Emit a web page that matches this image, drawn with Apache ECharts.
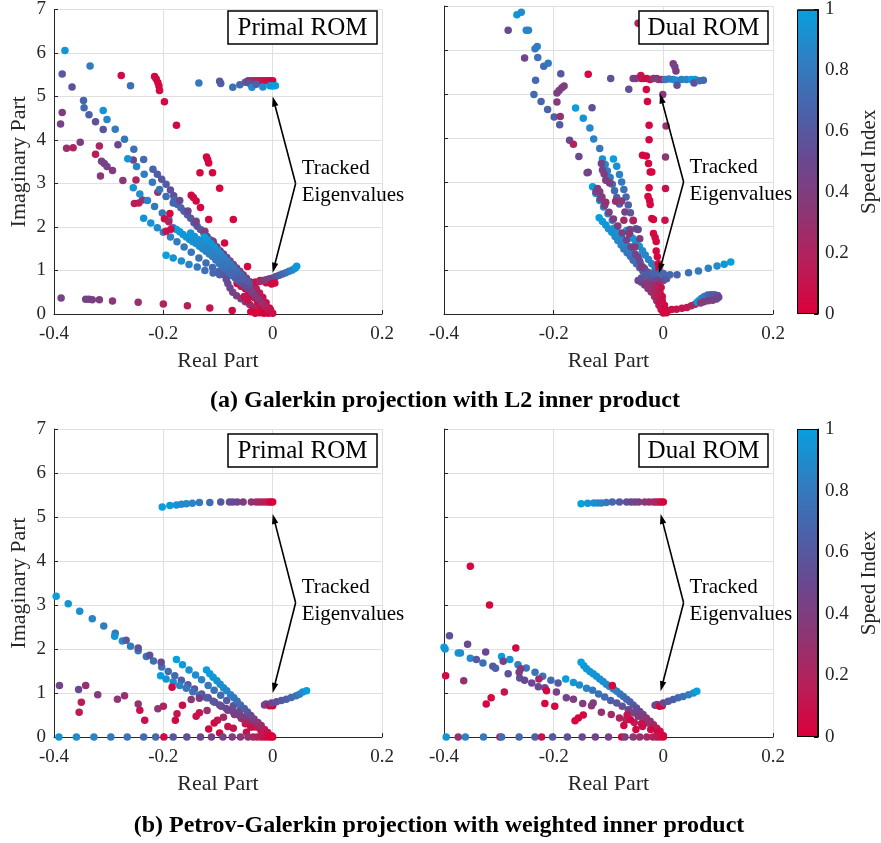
<!DOCTYPE html>
<html>
<head>
<meta charset="utf-8">
<script src="https://cdn.jsdelivr.net/npm/echarts@6.0.0/dist/echarts.min.js"></script>
<style>
  html, body { margin: 0; padding: 0; background: #ffffff; }
  #chart { width: 881px; height: 843px; }
</style>
</head>
<body>
<div id="chart"></div>
<script>
// Eigenvalue loci of the reduced-order models: [real part, imaginary part, speed index]

// (a) Galerkin projection, L2 inner product — primal ROM
const galerkinPrimal = [
  [-0.380, 6.06, 0.95], [-0.385, 5.52, 0.60], [-0.367, 5.22, 0.55], [-0.334, 5.70, 0.82],
  [-0.277, 5.48, 0.05], [-0.260, 5.25, 0.75], [-0.346, 4.91, 0.68], [-0.345, 4.74, 0.70],
  [-0.336, 4.58, 0.66], [-0.324, 4.42, 0.55], [-0.310, 4.24, 0.58], [-0.283, 3.89, 0.50],
  [-0.310, 4.68, 0.95], [-0.303, 4.47, 0.88], [-0.288, 4.25, 0.82], [-0.271, 4.02, 0.78],
  [-0.254, 3.79, 0.76], [-0.236, 3.55, 0.72], [-0.219, 3.33, 0.68], [-0.211, 3.21, 0.62],
  [-0.203, 3.10, 0.60], [-0.195, 2.98, 0.62], [-0.187, 2.85, 0.55], [-0.181, 2.72, 0.55],
  [-0.216, 5.46, 0.05], [-0.213, 5.40, 0.05], [-0.210, 5.32, 0.05], [-0.208, 5.24, 0.05],
  [-0.207, 5.14, 0.03], [-0.198, 4.88, 0.03], [-0.176, 4.34, 0.03],
  [-0.135, 5.31, 0.80], [-0.097, 5.35, 0.60], [-0.095, 5.30, 0.62], [-0.073, 5.21, 0.75],
  [-0.060, 5.27, 0.70], [-0.050, 5.33, 0.60], [-0.045, 5.36, 0.45], [-0.040, 5.36, 0.35],
  [-0.035, 5.36, 0.25], [-0.030, 5.36, 0.20], [-0.025, 5.36, 0.15], [-0.020, 5.36, 0.12],
  [-0.015, 5.36, 0.10], [-0.010, 5.36, 0.08], [-0.005, 5.36, 0.05], [0.000, 5.36, 0.02],
  [-0.042, 5.30, 0.55], [-0.038, 5.21, 0.90], [-0.030, 5.28, 0.65], [-0.018, 5.22, 0.90],
  [-0.005, 5.25, 0.95], [0.000, 5.24, 0.98], [0.005, 5.25, 1.00],
  [-0.385, 4.63, 0.40], [-0.388, 4.37, 0.45], [-0.377, 3.81, 0.28], [-0.365, 3.82, 0.20],
  [-0.352, 3.95, 0.40], [-0.324, 3.67, 0.15], [-0.317, 3.86, 0.20], [-0.315, 3.17, 0.35],
  [-0.313, 3.51, 0.45], [-0.308, 3.46, 0.45], [-0.303, 3.39, 0.45], [-0.293, 3.30, 0.40],
  [-0.274, 3.07, 0.35], [-0.255, 3.54, 0.45], [-0.250, 3.08, 0.20], [-0.253, 2.54, 0.15],
  [-0.245, 2.55, 0.15], [-0.238, 2.62, 0.30], [-0.210, 2.80, 0.30],
  [-0.265, 3.57, 0.95], [-0.255, 2.90, 0.95], [-0.249, 3.39, 0.86], [-0.243, 2.76, 0.90],
  [-0.235, 3.21, 0.84], [-0.229, 2.61, 0.85], [-0.220, 3.03, 0.80], [-0.216, 2.47, 0.80],
  [-0.207, 2.86, 0.78], [-0.202, 2.32, 0.80], [-0.195, 2.70, 0.75], [-0.190, 2.17, 0.78],
  [-0.182, 2.55, 0.72], [-0.182, 1.98, 0.75],
  [-0.180, 2.62, 0.70], [-0.174, 2.52, 0.68], [-0.168, 2.44, 0.70], [-0.162, 2.36, 0.66],
  [-0.156, 2.28, 0.64], [-0.150, 2.20, 0.62], [-0.144, 2.10, 0.60], [-0.138, 2.02, 0.58],
  [-0.132, 1.94, 0.60], [-0.126, 1.86, 0.56], [-0.120, 1.78, 0.55], [-0.114, 1.70, 0.55],
  [-0.108, 1.62, 0.52], [-0.102, 1.54, 0.50], [-0.096, 1.45, 0.50], [-0.090, 1.38, 0.48],
  [-0.084, 1.30, 0.47], [-0.078, 1.22, 0.45], [-0.072, 1.14, 0.44], [-0.066, 1.06, 0.42],
  [-0.060, 0.98, 0.40], [-0.054, 0.90, 0.38], [-0.048, 0.82, 0.35], [-0.042, 0.74, 0.30],
  [-0.036, 0.66, 0.25], [-0.030, 0.58, 0.20], [-0.024, 0.48, 0.15], [-0.018, 0.38, 0.10],
  [-0.012, 0.26, 0.08], [-0.006, 0.14, 0.05],
  [-0.170, 2.61, 0.50], [-0.155, 2.37, 0.50], [-0.140, 2.13, 0.45], [-0.124, 1.90, 0.42],
  [-0.109, 1.67, 0.40], [-0.097, 1.45, 0.42],
  [-0.236, 2.20, 0.95], [-0.223, 2.09, 0.95], [-0.211, 1.98, 0.90], [-0.200, 1.88, 0.86],
  [-0.187, 1.77, 0.85], [-0.175, 1.66, 0.82], [-0.162, 1.54, 0.80], [-0.149, 1.42, 0.78],
  [-0.135, 1.29, 0.75], [-0.122, 1.17, 0.72], [-0.110, 1.07, 0.70], [-0.098, 0.98, 0.68],
  [-0.195, 1.35, 1.00], [-0.182, 1.29, 0.95], [-0.167, 1.22, 0.90], [-0.153, 1.14, 0.85],
  [-0.138, 1.08, 0.80], [-0.124, 1.00, 0.75], [-0.109, 0.94, 0.70], [-0.097, 0.90, 0.66],
  [-0.088, 0.90, 0.60], [-0.085, 0.80, 0.55], [-0.082, 0.70, 0.52], [-0.078, 0.60, 0.50],
  [-0.073, 0.50, 0.45], [-0.066, 0.42, 0.42], [-0.058, 0.35, 0.38], [-0.050, 0.28, 0.33],
  [-0.042, 0.22, 0.28], [-0.034, 0.16, 0.22], [-0.026, 0.10, 0.15], [-0.018, 0.06, 0.10],
  [-0.065, 0.70, 0.05], [-0.058, 0.64, 0.08], [-0.050, 0.58, 0.05], [-0.044, 0.52, 0.10],
  [-0.040, 0.44, 0.05], [-0.034, 0.38, 0.08], [-0.028, 0.30, 0.05], [-0.022, 0.22, 0.03],
  [-0.016, 0.16, 0.05], [-0.010, 0.10, 0.02], [-0.005, 0.04, 0.00], [-0.052, 0.40, 0.12],
  [-0.046, 0.32, 0.10], [-0.023, 0.77, 0.03], [-0.012, 0.72, 0.05], [-0.002, 0.70, 0.05],
  [-0.033, 0.73, 0.05], [-0.040, 0.05, 0.03], [-0.032, 0.02, 0.02], [-0.024, 0.03, 0.02],
  [-0.016, 0.02, 0.00], [-0.008, 0.02, 0.00], [0.000, 0.02, 0.00], [-0.004, 0.10, 0.05],
  [-0.176, 1.94, 1.00], [-0.170, 1.89, 0.98], [-0.164, 1.83, 0.97], [-0.158, 1.77, 0.96],
  [-0.152, 1.71, 0.95], [-0.146, 1.66, 0.93], [-0.140, 1.62, 0.92], [-0.134, 1.56, 0.90],
  [-0.128, 1.50, 0.88], [-0.122, 1.44, 0.86], [-0.116, 1.38, 0.84], [-0.110, 1.32, 0.82],
  [-0.104, 1.24, 0.80], [-0.098, 1.16, 0.78], [-0.092, 1.10, 0.76], [-0.086, 1.02, 0.74],
  [-0.080, 0.95, 0.72], [-0.074, 0.88, 0.70], [-0.068, 0.82, 0.66], [-0.062, 0.76, 0.62],
  [-0.056, 0.70, 0.58], [-0.050, 0.64, 0.54], [-0.044, 0.58, 0.50], [-0.038, 0.50, 0.45],
  [-0.032, 0.42, 0.40], [-0.026, 0.34, 0.35], [-0.020, 0.26, 0.30], [-0.014, 0.18, 0.22],
  [-0.008, 0.10, 0.15], [-0.003, 0.04, 0.08],
  [-0.125, 1.77, 1.00], [-0.119, 1.70, 0.97], [-0.113, 1.62, 0.95], [-0.107, 1.54, 0.93],
  [-0.101, 1.46, 0.90], [-0.095, 1.38, 0.88], [-0.089, 1.30, 0.85], [-0.083, 1.22, 0.83],
  [-0.077, 1.14, 0.80], [-0.071, 1.06, 0.78], [-0.065, 0.98, 0.75], [-0.059, 0.90, 0.72],
  [-0.053, 0.82, 0.68], [-0.047, 0.76, 0.64], [-0.041, 0.70, 0.60],
  [-0.150, 1.86, 0.97], [-0.143, 1.78, 0.95], [-0.137, 1.71, 0.93], [-0.131, 1.64, 0.91],
  [-0.124, 1.56, 0.89], [-0.118, 1.48, 0.87], [-0.111, 1.40, 0.85], [-0.105, 1.33, 0.83],
  [-0.099, 1.25, 0.81], [-0.092, 1.17, 0.79], [-0.086, 1.09, 0.77], [-0.079, 1.01, 0.74],
  [-0.073, 0.93, 0.71], [-0.066, 0.86, 0.68], [-0.060, 0.80, 0.64],
  [-0.121, 3.61, 0.03], [-0.119, 3.55, 0.03], [-0.117, 3.47, 0.03], [-0.110, 3.25, 0.03],
  [-0.133, 3.25, 0.03], [-0.097, 2.89, 0.03], [-0.149, 2.73, 0.05], [-0.145, 2.68, 0.05],
  [-0.140, 2.60, 0.05], [-0.132, 2.45, 0.03], [-0.117, 2.17, 0.03], [-0.072, 2.17, 0.03],
  [-0.088, 1.63, 0.05], [-0.046, 1.09, 0.03], [-0.188, 2.31, 0.05], [-0.198, 2.19, 0.08],
  [-0.195, 1.90, 0.10], [-0.186, 1.95, 0.08], [-0.190, 2.12, 0.20],
  [-0.387, 0.37, 0.45], [-0.342, 0.34, 0.45], [-0.336, 0.34, 0.45], [-0.330, 0.33, 0.42],
  [-0.317, 0.33, 0.40], [-0.293, 0.30, 0.35], [-0.246, 0.27, 0.30], [-0.200, 0.23, 0.20],
  [-0.156, 0.19, 0.15], [-0.115, 0.14, 0.10], [-0.074, 0.08, 0.05],
  [-0.030, 0.73, 0.10], [-0.024, 0.75, 0.20], [-0.018, 0.77, 0.30], [-0.012, 0.79, 0.38],
  [-0.006, 0.81, 0.45], [0.000, 0.83, 0.50], [0.006, 0.86, 0.55], [0.012, 0.89, 0.62],
  [0.018, 0.92, 0.68], [0.024, 0.95, 0.74], [0.030, 0.98, 0.80], [0.036, 1.01, 0.86],
  [0.041, 1.05, 0.92], [0.044, 1.10, 0.98], [-0.002, 0.69, 0.03], [0.004, 0.71, 0.05]
];

// (a) Galerkin projection, L2 inner product — dual ROM
const galerkinDual = [
  [-0.267, 6.80, 0.95], [-0.259, 6.86, 0.90], [-0.283, 6.45, 0.50], [-0.250, 6.45, 0.88],
  [-0.246, 6.45, 0.85], [-0.234, 6.03, 0.80], [-0.230, 6.08, 0.82], [-0.253, 5.82, 0.45],
  [-0.229, 5.83, 0.75], [-0.218, 5.63, 0.72], [-0.210, 5.70, 0.80], [-0.233, 5.31, 0.70],
  [-0.187, 5.46, 0.60], [-0.236, 4.99, 0.70], [-0.223, 4.83, 0.68], [-0.211, 4.65, 0.66],
  [-0.199, 4.48, 0.65], [-0.189, 4.30, 0.62], [-0.171, 3.95, 0.50], [-0.154, 3.58, 0.50],
  [-0.137, 3.22, 0.45],
  [-0.194, 5.02, 0.42], [-0.190, 5.08, 0.42], [-0.185, 5.14, 0.40], [-0.181, 5.18, 0.40],
  [-0.194, 4.82, 0.35], [-0.188, 4.49, 0.30], [-0.164, 3.86, 0.20], [-0.130, 4.69, 0.55],
  [-0.160, 4.68, 1.00], [-0.146, 4.45, 0.95], [-0.134, 4.23, 0.88], [-0.127, 3.98, 0.85],
  [-0.116, 3.76, 0.80], [-0.111, 3.52, 0.95], [-0.106, 3.40, 0.90], [-0.102, 3.25, 0.85],
  [-0.097, 3.10, 0.80], [-0.093, 2.95, 0.75], [-0.089, 2.80, 0.70], [-0.085, 2.65, 0.65],
  [-0.080, 2.50, 0.60],
  [-0.091, 3.52, 1.00], [-0.085, 3.36, 0.92], [-0.080, 3.17, 0.86], [-0.076, 3.00, 0.80],
  [-0.072, 2.83, 0.75], [-0.068, 2.66, 0.70], [-0.064, 2.48, 0.65], [-0.060, 2.30, 0.60],
  [-0.055, 2.12, 0.58], [-0.050, 1.94, 0.55],
  [-0.129, 2.89, 1.00], [-0.123, 2.74, 0.97], [-0.116, 2.58, 0.93], [-0.109, 2.43, 0.90],
  [-0.101, 2.28, 0.86], [-0.093, 2.13, 0.82], [-0.085, 1.98, 0.78], [-0.078, 1.83, 0.74],
  [-0.070, 1.67, 0.70], [-0.063, 1.52, 0.66], [-0.055, 1.37, 0.62], [-0.047, 1.22, 0.58],
  [-0.038, 1.07, 0.55], [-0.028, 0.95, 0.55], [-0.018, 0.84, 0.52],
  [-0.117, 2.19, 1.00], [-0.111, 2.10, 0.98], [-0.105, 2.02, 0.96], [-0.100, 1.94, 0.94],
  [-0.094, 1.86, 0.92], [-0.088, 1.76, 0.90], [-0.083, 1.67, 0.88], [-0.077, 1.57, 0.85],
  [-0.072, 1.48, 0.82], [-0.066, 1.39, 0.79], [-0.060, 1.31, 0.76], [-0.055, 1.22, 0.73],
  [-0.049, 1.14, 0.70], [-0.043, 1.05, 0.68], [-0.037, 0.97, 0.66], [-0.031, 0.88, 0.64],
  [-0.026, 0.80, 0.60],
  [-0.090, 1.95, 0.95], [-0.083, 1.84, 0.93], [-0.076, 1.72, 0.90], [-0.069, 1.60, 0.88],
  [-0.062, 1.48, 0.85], [-0.055, 1.36, 0.82], [-0.048, 1.24, 0.78], [-0.041, 1.12, 0.75],
  [-0.034, 1.01, 0.70], [-0.027, 0.92, 0.65],
  [-0.067, 1.90, 1.00], [-0.061, 1.81, 0.98], [-0.056, 1.72, 0.96], [-0.050, 1.63, 0.94],
  [-0.044, 1.54, 0.92], [-0.038, 1.44, 0.90], [-0.033, 1.34, 0.88], [-0.027, 1.24, 0.85],
  [-0.021, 1.14, 0.82], [-0.015, 1.03, 0.78], [-0.009, 0.92, 0.74],
  [-0.123, 2.78, 0.45], [-0.115, 2.62, 0.45], [-0.107, 2.47, 0.42], [-0.099, 2.31, 0.42],
  [-0.091, 2.16, 0.40], [-0.083, 2.00, 0.40], [-0.075, 1.84, 0.42], [-0.067, 1.68, 0.45],
  [-0.059, 1.52, 0.48], [-0.051, 1.36, 0.50], [-0.043, 1.20, 0.52], [-0.035, 1.04, 0.55],
  [-0.120, 2.85, 0.40], [-0.116, 2.78, 0.40], [-0.112, 2.66, 0.38], [-0.105, 2.54, 0.30],
  [-0.139, 3.21, 0.45], [-0.113, 3.42, 0.45], [-0.111, 3.27, 0.45], [-0.108, 3.18, 0.40],
  [-0.105, 3.04, 0.40], [-0.098, 2.98, 0.40], [-0.087, 2.56, 0.30], [-0.076, 2.57, 0.35],
  [-0.070, 2.32, 0.45], [-0.061, 1.92, 0.45], [-0.046, 1.92, 0.50], [-0.055, 2.13, 0.20],
  [-0.072, 2.13, 0.25], [-0.062, 1.83, 0.35], [-0.043, 1.71, 0.40], [-0.052, 1.52, 0.35],
  [-0.040, 1.07, 0.40], [-0.046, 1.30, 0.45],
  [-0.040, 5.35, 0.10], [-0.031, 5.10, 0.03], [-0.029, 4.83, 0.03], [-0.026, 4.29, 0.03],
  [-0.026, 3.96, 0.03], [-0.038, 3.61, 0.03], [-0.031, 3.59, 0.03], [-0.027, 3.42, 0.03],
  [-0.024, 3.23, 0.03], [-0.021, 3.23, 0.03], [-0.026, 2.87, 0.03], [-0.028, 2.67, 0.03],
  [-0.025, 2.58, 0.03], [-0.024, 2.49, 0.03], [-0.021, 2.17, 0.03], [-0.018, 2.15, 0.03],
  [-0.018, 1.83, 0.03], [-0.015, 1.74, 0.03], [-0.013, 1.65, 0.03], [-0.013, 1.43, 0.03],
  [-0.011, 1.30, 0.03], [-0.009, 1.14, 0.03], [-0.008, 1.03, 0.03],
  [-0.001, 4.99, 0.35], [0.005, 4.27, 0.30], [0.004, 3.57, 0.35], [0.004, 2.85, 0.10],
  [0.003, 2.13, 0.10],
  [-0.137, 5.45, 0.03], [-0.096, 5.35, 0.55], [-0.063, 5.11, 0.55], [-0.055, 5.35, 0.45],
  [-0.050, 5.35, 0.40], [-0.046, 6.61, 0.20], [-0.041, 5.42, 0.10], [-0.036, 5.35, 0.10],
  [-0.030, 5.35, 0.05], [-0.024, 5.33, 0.10], [-0.018, 5.35, 0.35], [-0.012, 5.35, 0.30],
  [-0.009, 5.33, 0.45], [-0.003, 5.33, 0.20], [0.018, 5.69, 0.40], [0.021, 5.62, 0.45],
  [0.023, 5.52, 0.40], [0.018, 5.33, 0.90], [0.024, 5.31, 0.95], [0.033, 5.33, 0.85],
  [0.042, 5.33, 0.85], [0.051, 5.33, 1.00], [0.058, 5.33, 0.95], [0.056, 5.25, 0.55],
  [0.066, 5.30, 0.75], [0.073, 5.31, 0.70], [0.025, 5.20, 0.55], [0.010, 5.34, 0.85],
  [0.003, 5.33, 0.80],
  [-0.046, 0.76, 0.50], [-0.040, 0.72, 0.45], [-0.034, 0.66, 0.40], [-0.028, 0.58, 0.35],
  [-0.022, 0.50, 0.30], [-0.016, 0.40, 0.25], [-0.012, 0.30, 0.20], [-0.008, 0.20, 0.15],
  [-0.004, 0.10, 0.10], [0.000, 0.02, 0.05], [-0.040, 0.82, 0.55], [-0.030, 0.80, 0.60],
  [-0.020, 0.80, 0.55], [-0.010, 0.78, 0.50], [0.000, 0.76, 0.45], [0.006, 0.80, 0.60],
  [-0.030, 0.70, 0.35], [-0.020, 0.66, 0.30], [-0.010, 0.66, 0.20], [-0.004, 0.60, 0.10],
  [-0.014, 0.56, 0.20], [-0.006, 0.48, 0.10], [-0.002, 0.40, 0.05], [-0.010, 0.44, 0.15],
  [-0.002, 0.30, 0.05], [0.002, 0.20, 0.03], [0.003, 0.10, 0.02], [0.006, 0.03, 0.02],
  [-0.006, 0.25, 0.10],
  [0.006, 0.08, 0.05], [0.015, 0.10, 0.08], [0.024, 0.11, 0.10], [0.034, 0.13, 0.12],
  [0.043, 0.15, 0.15], [0.051, 0.19, 0.20], [0.058, 0.22, 0.25],
  [0.062, 0.27, 1.00], [0.066, 0.31, 0.95], [0.070, 0.36, 0.88], [0.075, 0.40, 0.80],
  [0.081, 0.43, 0.72], [0.087, 0.44, 0.65], [0.093, 0.44, 0.60], [0.099, 0.42, 0.55],
  [0.101, 0.38, 0.50], [0.097, 0.34, 0.48], [0.090, 0.31, 0.45], [0.082, 0.30, 0.42],
  [0.074, 0.28, 0.40], [0.068, 0.25, 0.35],
  [0.000, 0.92, 0.70], [0.012, 0.89, 0.70], [0.025, 0.89, 0.68], [0.046, 0.94, 0.75],
  [0.064, 0.98, 0.80], [0.082, 1.04, 0.85], [0.098, 1.09, 0.90], [0.111, 1.13, 0.95],
  [0.123, 1.18, 1.00], [-0.006, 0.93, 0.70], [-0.018, 0.92, 0.68]
];

// (b) Petrov-Galerkin projection, weighted inner product — primal ROM
const petrovPrimal = [
  [-0.202, 5.23, 1.00], [-0.188, 5.26, 0.97], [-0.176, 5.27, 0.93], [-0.167, 5.29, 0.90],
  [-0.158, 5.30, 0.88], [-0.147, 5.31, 0.85], [-0.134, 5.33, 0.80], [-0.115, 5.33, 0.72],
  [-0.095, 5.34, 0.62], [-0.079, 5.34, 0.55], [-0.073, 5.34, 0.52], [-0.065, 5.34, 0.48],
  [-0.054, 5.34, 0.42], [-0.039, 5.34, 0.33], [-0.030, 5.34, 0.28], [-0.024, 5.34, 0.25],
  [-0.018, 5.34, 0.20], [-0.012, 5.34, 0.15], [-0.007, 5.34, 0.10], [-0.003, 5.34, 0.05],
  [0.000, 5.34, 0.00],
  [-0.015, 0.73, 0.45], [-0.012, 0.75, 0.48], [-0.006, 0.71, 0.08], [0.000, 0.71, 0.00],
  [-0.002, 0.77, 0.50], [0.007, 0.80, 0.55], [0.016, 0.83, 0.60], [0.025, 0.86, 0.65],
  [0.034, 0.90, 0.70], [0.043, 0.94, 0.75], [0.049, 0.97, 0.82], [0.055, 1.02, 0.90],
  [0.062, 1.05, 1.00],
  [-0.396, 3.20, 1.00], [-0.374, 3.03, 0.95], [-0.353, 2.86, 0.90], [-0.330, 2.69, 0.86],
  [-0.309, 2.52, 0.82], [-0.288, 2.36, 0.78], [-0.289, 2.29, 0.95], [-0.275, 2.18, 0.90],
  [-0.260, 2.06, 0.82], [-0.246, 1.96, 0.80], [-0.231, 1.83, 0.78], [-0.218, 1.73, 0.76],
  [-0.203, 1.59, 0.75], [-0.268, 2.20, 0.60], [-0.246, 2.02, 0.55], [-0.225, 1.86, 0.55],
  [-0.204, 1.70, 0.50],
  [-0.191, 1.49, 0.72], [-0.179, 1.39, 0.70], [-0.167, 1.29, 0.66], [-0.155, 1.19, 0.62],
  [-0.143, 1.09, 0.58], [-0.130, 0.98, 0.55], [-0.118, 0.89, 0.50], [-0.106, 0.79, 0.47],
  [-0.094, 0.70, 0.44], [-0.082, 0.61, 0.40], [-0.070, 0.51, 0.35], [-0.057, 0.42, 0.30],
  [-0.045, 0.32, 0.25], [-0.033, 0.23, 0.18], [-0.021, 0.13, 0.10], [-0.009, 0.04, 0.05],
  [-0.205, 1.39, 1.00], [-0.195, 1.32, 0.95], [-0.182, 1.25, 0.90], [-0.170, 1.17, 0.85],
  [-0.158, 1.11, 0.80], [-0.146, 1.03, 0.75], [-0.134, 0.95, 0.70], [-0.121, 0.89, 0.65],
  [-0.109, 0.81, 0.60], [-0.097, 0.73, 0.55], [-0.085, 0.65, 0.50], [-0.072, 0.57, 0.45],
  [-0.060, 0.48, 0.40], [-0.048, 0.39, 0.30], [-0.036, 0.30, 0.20], [-0.024, 0.20, 0.12],
  [-0.012, 0.11, 0.05],
  [-0.176, 1.76, 1.00], [-0.165, 1.64, 0.97], [-0.153, 1.52, 0.93], [-0.141, 1.41, 0.90],
  [-0.130, 1.30, 0.85], [-0.118, 1.17, 0.80], [-0.107, 1.06, 0.75], [-0.095, 0.95, 0.70],
  [-0.084, 0.83, 0.62], [-0.072, 0.71, 0.55], [-0.060, 0.60, 0.48], [-0.049, 0.48, 0.40],
  [-0.037, 0.36, 0.30], [-0.026, 0.25, 0.20], [-0.014, 0.13, 0.10], [-0.002, 0.02, 0.03],
  [-0.121, 1.52, 1.00], [-0.115, 1.44, 1.00], [-0.109, 1.36, 0.97], [-0.102, 1.28, 0.95],
  [-0.096, 1.20, 0.92], [-0.090, 1.12, 0.90], [-0.084, 1.05, 0.87], [-0.077, 0.96, 0.84],
  [-0.071, 0.89, 0.80], [-0.065, 0.81, 0.76], [-0.059, 0.73, 0.72], [-0.052, 0.65, 0.66],
  [-0.046, 0.57, 0.60], [-0.040, 0.49, 0.52], [-0.034, 0.41, 0.44], [-0.027, 0.33, 0.35],
  [-0.021, 0.26, 0.25], [-0.015, 0.17, 0.17], [-0.009, 0.10, 0.08], [-0.002, 0.02, 0.02],
  [-0.390, 1.17, 0.45], [-0.355, 1.08, 0.50], [-0.342, 1.17, 0.30], [-0.350, 0.79, 0.15],
  [-0.354, 0.56, 0.15], [-0.320, 0.96, 0.40], [-0.284, 0.86, 0.35], [-0.271, 0.94, 0.30],
  [-0.246, 0.75, 0.35], [-0.243, 0.61, 0.10], [-0.234, 0.38, 0.10], [-0.210, 0.64, 0.35],
  [-0.200, 0.70, 0.20], [-0.184, 1.13, 0.05], [-0.165, 0.72, 0.05], [-0.175, 0.53, 0.10],
  [-0.178, 0.38, 0.05], [-0.140, 0.47, 0.10], [-0.134, 0.55, 0.10], [-0.117, 0.18, 0.05],
  [-0.107, 0.32, 0.05], [-0.101, 0.38, 0.10], [-0.082, 0.24, 0.10], [-0.097, 0.09, 0.05],
  [-0.072, 0.20, 0.10], [-0.048, 0.11, 0.10], [-0.050, 0.30, 0.15], [-0.040, 0.22, 0.10],
  [-0.149, 0.85, 0.35], [-0.134, 0.88, 0.40], [-0.120, 0.60, 0.30], [-0.090, 0.45, 0.25],
  [-0.391, 0.00, 0.95], [-0.359, 0.00, 0.90], [-0.327, 0.00, 0.85], [-0.296, 0.00, 0.80],
  [-0.266, 0.00, 0.78], [-0.236, 0.00, 0.72], [-0.214, 0.00, 0.70], [-0.199, 0.00, 0.05],
  [-0.182, 0.00, 0.60], [-0.157, 0.00, 0.55], [-0.132, 0.00, 0.50], [-0.112, 0.00, 0.45],
  [-0.091, 0.00, 0.45], [-0.074, 0.00, 0.40], [-0.059, 0.00, 0.35], [-0.045, 0.00, 0.30],
  [-0.036, 0.00, 0.25], [-0.029, 0.00, 0.20], [-0.022, 0.00, 0.15], [-0.016, 0.00, 0.10],
  [-0.010, 0.00, 0.05], [-0.004, 0.00, 0.00], [0.000, 0.00, 0.00]
];

// (b) Petrov-Galerkin projection, weighted inner product — dual ROM
const petrovDual = [
  [-0.150, 5.30, 1.00], [-0.138, 5.31, 0.95], [-0.127, 5.32, 0.92], [-0.120, 5.32, 0.90],
  [-0.113, 5.32, 0.85], [-0.104, 5.33, 0.80], [-0.093, 5.34, 0.70], [-0.080, 5.34, 0.62],
  [-0.067, 5.34, 0.55], [-0.059, 5.34, 0.50], [-0.052, 5.34, 0.48], [-0.045, 5.34, 0.42],
  [-0.034, 5.34, 0.35], [-0.026, 5.34, 0.30], [-0.018, 5.34, 0.25], [-0.013, 5.34, 0.20],
  [-0.008, 5.34, 0.15], [-0.004, 5.34, 0.10], [0.000, 5.34, 0.00],
  [-0.015, 0.72, 0.45], [-0.011, 0.74, 0.50], [-0.007, 0.70, 0.05], [-0.002, 0.71, 0.02],
  [0.000, 0.77, 0.50], [0.009, 0.81, 0.60], [0.018, 0.85, 0.65], [0.027, 0.89, 0.70],
  [0.036, 0.92, 0.75], [0.046, 0.96, 0.82], [0.055, 1.00, 0.90], [0.061, 1.04, 1.00],
  [-0.150, 1.70, 1.00], [-0.145, 1.62, 1.00], [-0.140, 1.55, 0.98], [-0.134, 1.49, 0.97],
  [-0.128, 1.44, 0.96], [-0.122, 1.38, 0.95], [-0.116, 1.32, 0.94], [-0.110, 1.26, 0.92],
  [-0.104, 1.20, 0.90], [-0.098, 1.15, 0.88], [-0.091, 1.09, 0.85], [-0.085, 1.04, 0.82],
  [-0.079, 0.98, 0.80], [-0.073, 0.92, 0.76], [-0.067, 0.86, 0.72], [-0.061, 0.80, 0.68],
  [-0.055, 0.73, 0.62], [-0.049, 0.66, 0.56], [-0.043, 0.58, 0.50], [-0.037, 0.51, 0.44],
  [-0.031, 0.43, 0.38], [-0.024, 0.36, 0.30], [-0.018, 0.28, 0.22], [-0.012, 0.20, 0.15],
  [-0.006, 0.13, 0.08], [0.000, 0.03, 0.02],
  [-0.400, 2.04, 1.00], [-0.398, 2.00, 0.95], [-0.374, 1.91, 0.95], [-0.370, 1.91, 0.90],
  [-0.352, 1.79, 0.90], [-0.341, 1.76, 0.60], [-0.329, 1.68, 0.75], [-0.311, 1.61, 0.60],
  [-0.306, 1.56, 0.65],
  [-0.295, 1.83, 1.00], [-0.280, 1.76, 0.95], [-0.265, 1.64, 0.85], [-0.250, 1.57, 0.80],
  [-0.234, 1.47, 0.78], [-0.220, 1.38, 0.75], [-0.205, 1.29, 0.72], [-0.192, 1.23, 0.60],
  [-0.178, 1.32, 1.00], [-0.164, 1.24, 0.95], [-0.153, 1.18, 0.90], [-0.140, 1.11, 0.85],
  [-0.129, 1.06, 0.80], [-0.118, 0.98, 0.75], [-0.107, 0.91, 0.70], [-0.096, 0.83, 0.65],
  [-0.085, 0.77, 0.60], [-0.075, 0.70, 0.55], [-0.064, 0.62, 0.50], [-0.055, 0.55, 0.45],
  [-0.046, 0.47, 0.40], [-0.037, 0.39, 0.35], [-0.028, 0.32, 0.30], [-0.018, 0.24, 0.20],
  [-0.009, 0.13, 0.10], [-0.002, 0.02, 0.02],
  [-0.283, 1.44, 0.55], [-0.262, 1.34, 0.55], [-0.253, 1.29, 0.50], [-0.240, 1.23, 0.50],
  [-0.228, 1.14, 0.50], [-0.216, 1.12, 0.45], [-0.195, 1.02, 0.45], [-0.177, 0.89, 0.45],
  [-0.164, 0.86, 0.40], [-0.147, 0.76, 0.40], [-0.131, 0.71, 0.35], [-0.113, 0.56, 0.30],
  [-0.095, 0.51, 0.25], [-0.080, 0.43, 0.20], [-0.068, 0.39, 0.20], [-0.053, 0.33, 0.15],
  [-0.038, 0.24, 0.10], [-0.023, 0.17, 0.05], [-0.011, 0.09, 0.02],
  [-0.390, 2.30, 0.55], [-0.357, 2.11, 0.50], [-0.324, 1.93, 0.50], [-0.292, 1.72, 0.45],
  [-0.352, 3.88, 0.03], [-0.317, 3.00, 0.03], [-0.269, 2.02, 0.05], [-0.397, 1.39, 0.03],
  [-0.364, 1.28, 0.30], [-0.323, 0.75, 0.03], [-0.314, 0.89, 0.03], [-0.290, 1.02, 0.10],
  [-0.260, 1.55, 0.35], [-0.263, 1.47, 0.40], [-0.227, 1.32, 0.25], [-0.213, 1.05, 0.03],
  [-0.216, 0.76, 0.03], [-0.198, 0.70, 0.03], [-0.093, 1.17, 0.03], [-0.161, 0.37, 0.03],
  [-0.155, 0.43, 0.03], [-0.146, 0.50, 0.05], [-0.128, 0.77, 0.40], [-0.072, 0.26, 0.05],
  [-0.060, 0.39, 0.05], [-0.050, 0.17, 0.05], [-0.066, 0.50, 0.10], [-0.040, 0.30, 0.08],
  [-0.396, 0.00, 0.95], [-0.374, 0.00, 0.30], [-0.361, 0.00, 0.85], [-0.328, 0.00, 0.80],
  [-0.298, 0.00, 0.15], [-0.295, 0.00, 0.75], [-0.263, 0.00, 0.70], [-0.234, 0.00, 0.65],
  [-0.222, 0.00, 0.10], [-0.202, 0.00, 0.60], [-0.175, 0.00, 0.55], [-0.148, 0.00, 0.50],
  [-0.124, 0.00, 0.45], [-0.100, 0.00, 0.45], [-0.076, 0.00, 0.05], [-0.070, 0.00, 0.40],
  [-0.055, 0.00, 0.35], [-0.043, 0.00, 0.30], [-0.030, 0.00, 0.25], [-0.019, 0.00, 0.20],
  [-0.012, 0.00, 0.15], [-0.006, 0.00, 0.10], [0.000, 0.00, 0.02]
];

// Axis ranges and ticks
const realRange = [-0.4, 0.2];
const realStep = 0.2;
const imagRange = [0, 7];
const imagStep = 1;
const speedRange = [0, 1];
const speedStep = 0.2;

// Colour map for the speed index, from 0 (red) to 1 (blue)
const speedColors = ['#dc003a', '#b71f59', '#8d3673', '#6a4890', '#4a62aa', '#2f7fc2', '#079fdd'];

const panelTitles = ['Primal ROM', 'Dual ROM', 'Primal ROM', 'Dual ROM'];
const captions = ['(a) Galerkin projection with L2 inner product',
                  '(b) Petrov-Galerkin projection with weighted inner product'];
const trackedLabel = ['Tracked', 'Eigenvalues'];
const axisNames = { real: 'Real Part', imag: 'Imaginary Part', speed: 'Speed Index' };

// Arrow anchors for the tracked eigenvalues, in data coordinates: [upper tip, lower tip, bend]
const trackedArrows = [
  [[0.000, 5.00], [0.000, 0.95], [0.042, 3.00]],
  [[-0.006, 5.01], [-0.008, 0.93], [0.037, 3.00]],
  [[0.000, 5.07], [0.000, 1.00], [0.042, 3.05]],
  [[-0.005, 5.07], [-0.005, 1.04], [0.037, 3.05]]
];

const FONT = '"Liberation Serif", "Times New Roman", Times, serif';
const INK = '#262626';
const GRIDLINE = '#e0e0e0';

const chart = echarts.init(document.getElementById('chart'), null, { renderer: 'canvas' });

const gridBoxes = [
  { left: 54, top: 6, width: 328, height: 308 },
  { left: 444, top: 6, width: 329, height: 308 },
  { left: 54, top: 429, width: 328, height: 308 },
  { left: 444, top: 429, width: 329, height: 308 },
  { left: 797, top: 6, width: 22, height: 308 },
  { left: 797, top: 429, width: 22, height: 308 }
];

const panelData = [galerkinPrimal, galerkinDual, petrovPrimal, petrovDual];

const xAxes = [];
const yAxes = [];
const series = [];

for (let i = 0; i < 4; i++) {
  const showY = (i % 2 === 0);
  xAxes.push({
    type: 'value', gridIndex: i, min: realRange[0], max: realRange[1], interval: realStep,
    name: axisNames.real, nameLocation: 'middle', nameGap: 36,
    nameTextStyle: { fontFamily: FONT, fontSize: 22, color: INK },
    axisLine: { show: true, onZero: false, lineStyle: { color: INK, width: 1 } },
    axisTick: { show: true, inside: true, length: 4, lineStyle: { color: INK } },
    axisLabel: { fontFamily: FONT, fontSize: 19, color: INK, margin: 11 },
    splitLine: { show: true, lineStyle: { color: GRIDLINE, width: 1 } }
  });
  yAxes.push({
    type: 'value', gridIndex: i, min: imagRange[0], max: imagRange[1], interval: imagStep,
    name: showY ? axisNames.imag : '', nameLocation: 'middle', nameGap: 24,
    nameTextStyle: { fontFamily: FONT, fontSize: 22, color: INK },
    axisLine: { show: true, onZero: false, lineStyle: { color: INK, width: 1 } },
    axisTick: { show: true, inside: true, length: 4, lineStyle: { color: INK } },
    axisLabel: { show: showY, fontFamily: FONT, fontSize: 19, color: INK, margin: 8 },
    splitLine: { show: true, lineStyle: { color: GRIDLINE, width: 1 } }
  });
  series.push({
    type: 'scatter', xAxisIndex: i, yAxisIndex: i,
    data: panelData[i], symbol: 'circle', symbolSize: 7.5, clip: false,
    itemStyle: { opacity: 1 }, silent: true
  });
}

// Colour bars, one per row of panels
const colorbarFill = {
  type: 'linear', x: 0, y: 0, x2: 0, y2: 1,
  colorStops: speedColors.map((c, k) => ({ offset: 1 - k / (speedColors.length - 1), color: c }))
};
for (let r = 0; r < 2; r++) {
  const g = 4 + r;
  xAxes.push({ type: 'category', gridIndex: g, data: ['speed'], show: false });
  yAxes.push({
    type: 'value', gridIndex: g, position: 'right',
    min: speedRange[0], max: speedRange[1], interval: speedStep,
    name: axisNames.speed, nameLocation: 'middle', nameGap: 41, nameRotate: 90,
    nameTextStyle: { fontFamily: FONT, fontSize: 21, color: INK },
    axisLine: { show: true, onZero: false, lineStyle: { color: '#000', width: 1 } },
    axisTick: { show: true, inside: true, length: 4, lineStyle: { color: '#000' } },
    axisLabel: { fontFamily: FONT, fontSize: 19, color: INK, margin: 7 },
    splitLine: { show: false }
  });
  series.push({
    type: 'bar', xAxisIndex: g, yAxisIndex: g, data: [speedRange[1]],
    barWidth: '100%', silent: true, z: 1,
    itemStyle: { color: colorbarFill, borderColor: '#000', borderWidth: 1 }
  });
}

chart.setOption({
  animation: false,
  backgroundColor: '#ffffff',
  grid: gridBoxes.map(b => Object.assign({ containLabel: false }, b)),
  xAxis: xAxes,
  yAxis: yAxes,
  visualMap: {
    type: 'continuous', show: false, dimension: 2, seriesIndex: [0, 1, 2, 3],
    min: speedRange[0], max: speedRange[1], inRange: { color: speedColors }
  },
  series: series
});

// Annotations: panel titles, tracked-eigenvalue arrows and sub-captions
function arrow(from, to) {
  const dx = to[0] - from[0], dy = to[1] - from[1];
  const len = Math.hypot(dx, dy), ux = dx / len, uy = dy / len;
  const L = 10, W = 3.2;
  const bx = to[0] - ux * L, by = to[1] - uy * L;
  return [
    { type: 'line', z: 50, shape: { x1: from[0], y1: from[1], x2: bx + ux * 2, y2: by + uy * 2 },
      style: { stroke: '#000', lineWidth: 1.6 } },
    { type: 'polygon', z: 50, shape: { points: [to, [bx - uy * W, by + ux * W], [bx + uy * W, by - ux * W]] },
      style: { fill: '#000' } }
  ];
}

const graphics = [];
for (let i = 0; i < 4; i++) {
  const b = gridBoxes[i];
  const boxW = (i % 2 === 0) ? 149 : 129;
  const boxH = 33;
  const bx = b.left + b.width - 5 - boxW;
  const by = b.top + 5;
  graphics.push({ type: 'rect', z: 60, shape: { x: bx, y: by, width: boxW, height: boxH },
    style: { fill: '#fff', stroke: '#000', lineWidth: 1.5 } });
  graphics.push({ type: 'text', z: 61, x: bx + boxW / 2, y: by + boxH / 2 + 1,
    style: { text: panelTitles[i], font: '25px ' + FONT, fill: '#000',
      textAlign: 'center', textVerticalAlign: 'middle' } });

  const a = trackedArrows[i];
  const up = chart.convertToPixel({ gridIndex: i }, a[0]);
  const lo = chart.convertToPixel({ gridIndex: i }, a[1]);
  const bend = chart.convertToPixel({ gridIndex: i }, a[2]);
  graphics.push(...arrow(bend, up), ...arrow(bend, lo));
  graphics.push({ type: 'text', z: 61, x: bend[0] + 6, y: bend[1] - 15,
    style: { text: trackedLabel[0], font: '21px ' + FONT, fill: '#000',
      textAlign: 'left', textVerticalAlign: 'middle' } });
  graphics.push({ type: 'text', z: 61, x: bend[0] + 6, y: bend[1] + 12,
    style: { text: trackedLabel[1], font: '21px ' + FONT, fill: '#000',
      textAlign: 'left', textVerticalAlign: 'middle' } });
}
graphics.push({ type: 'text', x: 445, y: 401,
  style: { text: captions[0], font: 'bold 24px ' + FONT, fill: '#000',
    textAlign: 'center', textVerticalAlign: 'middle' } });
graphics.push({ type: 'text', x: 439, y: 826,
  style: { text: captions[1], font: 'bold 24px ' + FONT, fill: '#000',
    textAlign: 'center', textVerticalAlign: 'middle' } });

chart.setOption({ graphic: graphics });
</script>
</body>
</html>
